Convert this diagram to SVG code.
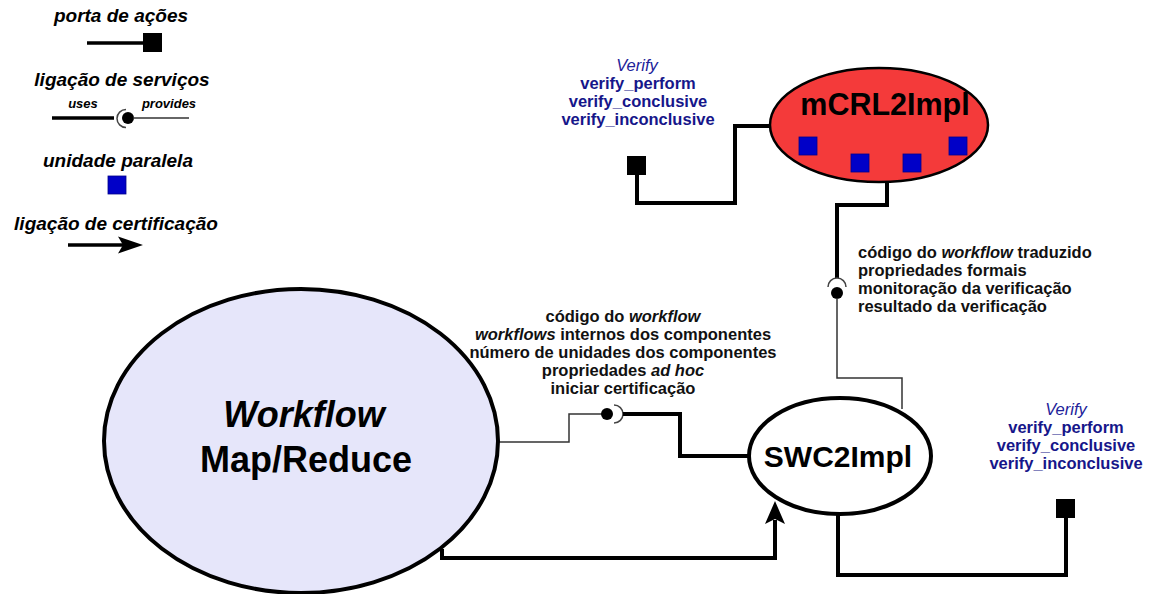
<svg xmlns="http://www.w3.org/2000/svg" width="1152" height="594" viewBox="0 0 1152 594">
  <defs>
    <style>
      .legend { font-family: "Liberation Sans", Arial, sans-serif; font-weight: bold; font-style: italic; font-size: 19px; fill: #000; text-anchor: middle; }
      .legend-small { font-family: "Liberation Sans", Arial, sans-serif; font-weight: bold; font-style: italic; font-size: 13px; fill: #000; text-anchor: middle; }
      .label { font-family: "Liberation Sans", Arial, sans-serif; font-weight: bold; font-size: 16.5px; fill: #111; }
      .iface { font-family: "Liberation Sans", Arial, sans-serif; font-weight: bold; font-size: 16.5px; fill: #16168a; text-anchor: middle; }
      .iface-name { font-family: "Liberation Sans", Arial, sans-serif; font-style: italic; font-size: 16.5px; fill: #22229a; text-anchor: middle; }
      .thick { fill: none; stroke: #000; stroke-width: 4; stroke-linejoin: miter; }
      .thin { fill: none; stroke: #333; stroke-width: 1.5; }
      .socket { fill: none; stroke: #444; stroke-width: 1.5; }
      .ball { fill: #000; }
      .port { fill: #000; }
      .unit { fill: #0000c8; stroke: #00008a; stroke-width: 0.8; }
      .node-title { font-family: "Liberation Sans", Arial, sans-serif; font-weight: bold; fill: #000; text-anchor: middle; }
    </style>
  </defs>

  <rect width="1152" height="594" fill="#fff"/>

  <!-- Legend -->
  <g id="legend">
    <text class="legend" x="121" y="22">porta de ações</text>
    <line x1="87" y1="43" x2="145" y2="43" stroke="#000" stroke-width="3.5"/>
    <rect class="port" x="143" y="33" width="19" height="19"/>

    <text class="legend" x="122" y="86">ligação de serviços</text>
    <text class="legend-small" x="83" y="108">uses</text>
    <text class="legend-small" x="169" y="108">provides</text>
    <line x1="52" y1="118" x2="114" y2="118" stroke="#000" stroke-width="3.5"/>
    <path class="socket" d="M 126 109.5 A 9 9 0 0 0 126 127.5"/>
    <circle class="ball" cx="128" cy="118" r="6"/>
    <line x1="133" y1="118" x2="189" y2="118" stroke="#333" stroke-width="1.5"/>

    <text class="legend" x="118" y="167">unidade paralela</text>
    <rect class="unit" x="108" y="176" width="18" height="18"/>

    <text class="legend" x="116" y="230">ligação de certificação</text>
    <line x1="68" y1="245" x2="124" y2="245" stroke="#000" stroke-width="3.5"/>
    <path d="M118,236.5 L143,245 L118,253.5 L123,245 Z" fill="#000"/>
  </g>

  <!-- Connectors -->
  <g id="connectors">
    <!-- mCRL2Impl action port -->
    <path class="thick" d="M 771 126 H 735 V 203 H 637 V 170"/>
    <!-- service link mCRL2Impl (uses) / SWC2Impl (provides) -->
    <path class="thick" d="M 887 181 V 205 H 837 V 278"/>
    <path class="socket" d="M 828 287 A 9 9 0 0 1 846 287"/>
    <circle class="ball" cx="837" cy="293" r="6"/>
    <path class="thin" d="M 837 298 V 378 H 902 V 409"/>
    <!-- service link Workflow (provides) / SWC2Impl (uses) -->
    <path class="thin" d="M 499 442 H 569 V 414 H 603"/>
    <circle class="ball" cx="607" cy="414" r="6"/>
    <path class="socket" d="M 614 405 A 9 9 0 0 1 614 423"/>
    <path class="thick" d="M 623 414 H 680 V 456 H 750"/>
    <!-- certification link -->
    <path class="thick" d="M 442 549 V 558 H 775 V 520"/>
    <path d="M765,524 L775,501 L785,524 L775,519 Z" fill="#000"/>
    <!-- SWC2Impl action port -->
    <path class="thick" d="M 838 513 V 575 H 1066 V 514"/>
  </g>

  <!-- Action port of mCRL2Impl -->
  <g id="port-mcrl2">
    <text class="iface-name" x="637" y="71">Verify</text>
    <text class="iface" x="638" y="89">verify_perform</text>
    <text class="iface" x="638" y="107">verify_conclusive</text>
    <text class="iface" x="638" y="125">verify_inconclusive</text>
    <rect class="port" x="627" y="156" width="19" height="19"/>
  </g>

  <!-- Action port of SWC2Impl -->
  <g id="port-swc2">
    <text class="iface-name" x="1066" y="415">Verify</text>
    <text class="iface" x="1066" y="433">verify_perform</text>
    <text class="iface" x="1066" y="451">verify_conclusive</text>
    <text class="iface" x="1066" y="469">verify_inconclusive</text>
    <rect class="port" x="1056" y="499" width="19" height="19"/>
  </g>

  <!-- mCRL2Impl component -->
  <g id="mcrl2impl">
    <ellipse cx="879" cy="125" rx="109" ry="57" fill="#f43a3a" stroke="#000" stroke-width="2.5"/>
    <text class="node-title" x="885" y="115" font-size="30.5">mCRL2Impl</text>
    <rect class="unit" x="799" y="137" width="18" height="18"/>
    <rect class="unit" x="851" y="154" width="18" height="18"/>
    <rect class="unit" x="903" y="154" width="18" height="18"/>
    <rect class="unit" x="949" y="137" width="18" height="18"/>
  </g>

  <!-- Workflow component -->
  <g id="workflow">
    <ellipse cx="301" cy="441" rx="197" ry="152" fill="#e6e6fa" stroke="#000" stroke-width="4"/>
    <text class="node-title" x="304" y="427" font-size="36" font-style="italic">Workflow</text>
    <text class="node-title" x="306" y="472" font-size="36">Map/Reduce</text>
  </g>

  <!-- SWC2Impl component -->
  <g id="swc2impl">
    <ellipse cx="840" cy="456" rx="91" ry="58" fill="#fff" stroke="#000" stroke-width="4"/>
    <text class="node-title" x="838" y="467" font-size="30">SWC2Impl</text>
  </g>

  <!-- Service link labels -->
  <g id="label-swc2-mcrl2">
    <text class="label" x="858" y="258">código do <tspan font-style="italic">workflow</tspan> traduzido</text>
    <text class="label" x="858" y="276">propriedades formais</text>
    <text class="label" x="858" y="294">monitoração da verificação</text>
    <text class="label" x="858" y="312">resultado da verificação</text>
  </g>
  <g id="label-workflow-swc2">
    <text class="label" x="623" y="322" text-anchor="middle">código do <tspan font-style="italic">workflow</tspan></text>
    <text class="label" x="623" y="340" text-anchor="middle"><tspan font-style="italic">workflows</tspan> internos dos componentes</text>
    <text class="label" x="623" y="358" text-anchor="middle">número de unidades dos componentes</text>
    <text class="label" x="623" y="376" text-anchor="middle">propriedades <tspan font-style="italic">ad hoc</tspan></text>
    <text class="label" x="623" y="394" text-anchor="middle">iniciar certificação</text>
  </g>
</svg>
